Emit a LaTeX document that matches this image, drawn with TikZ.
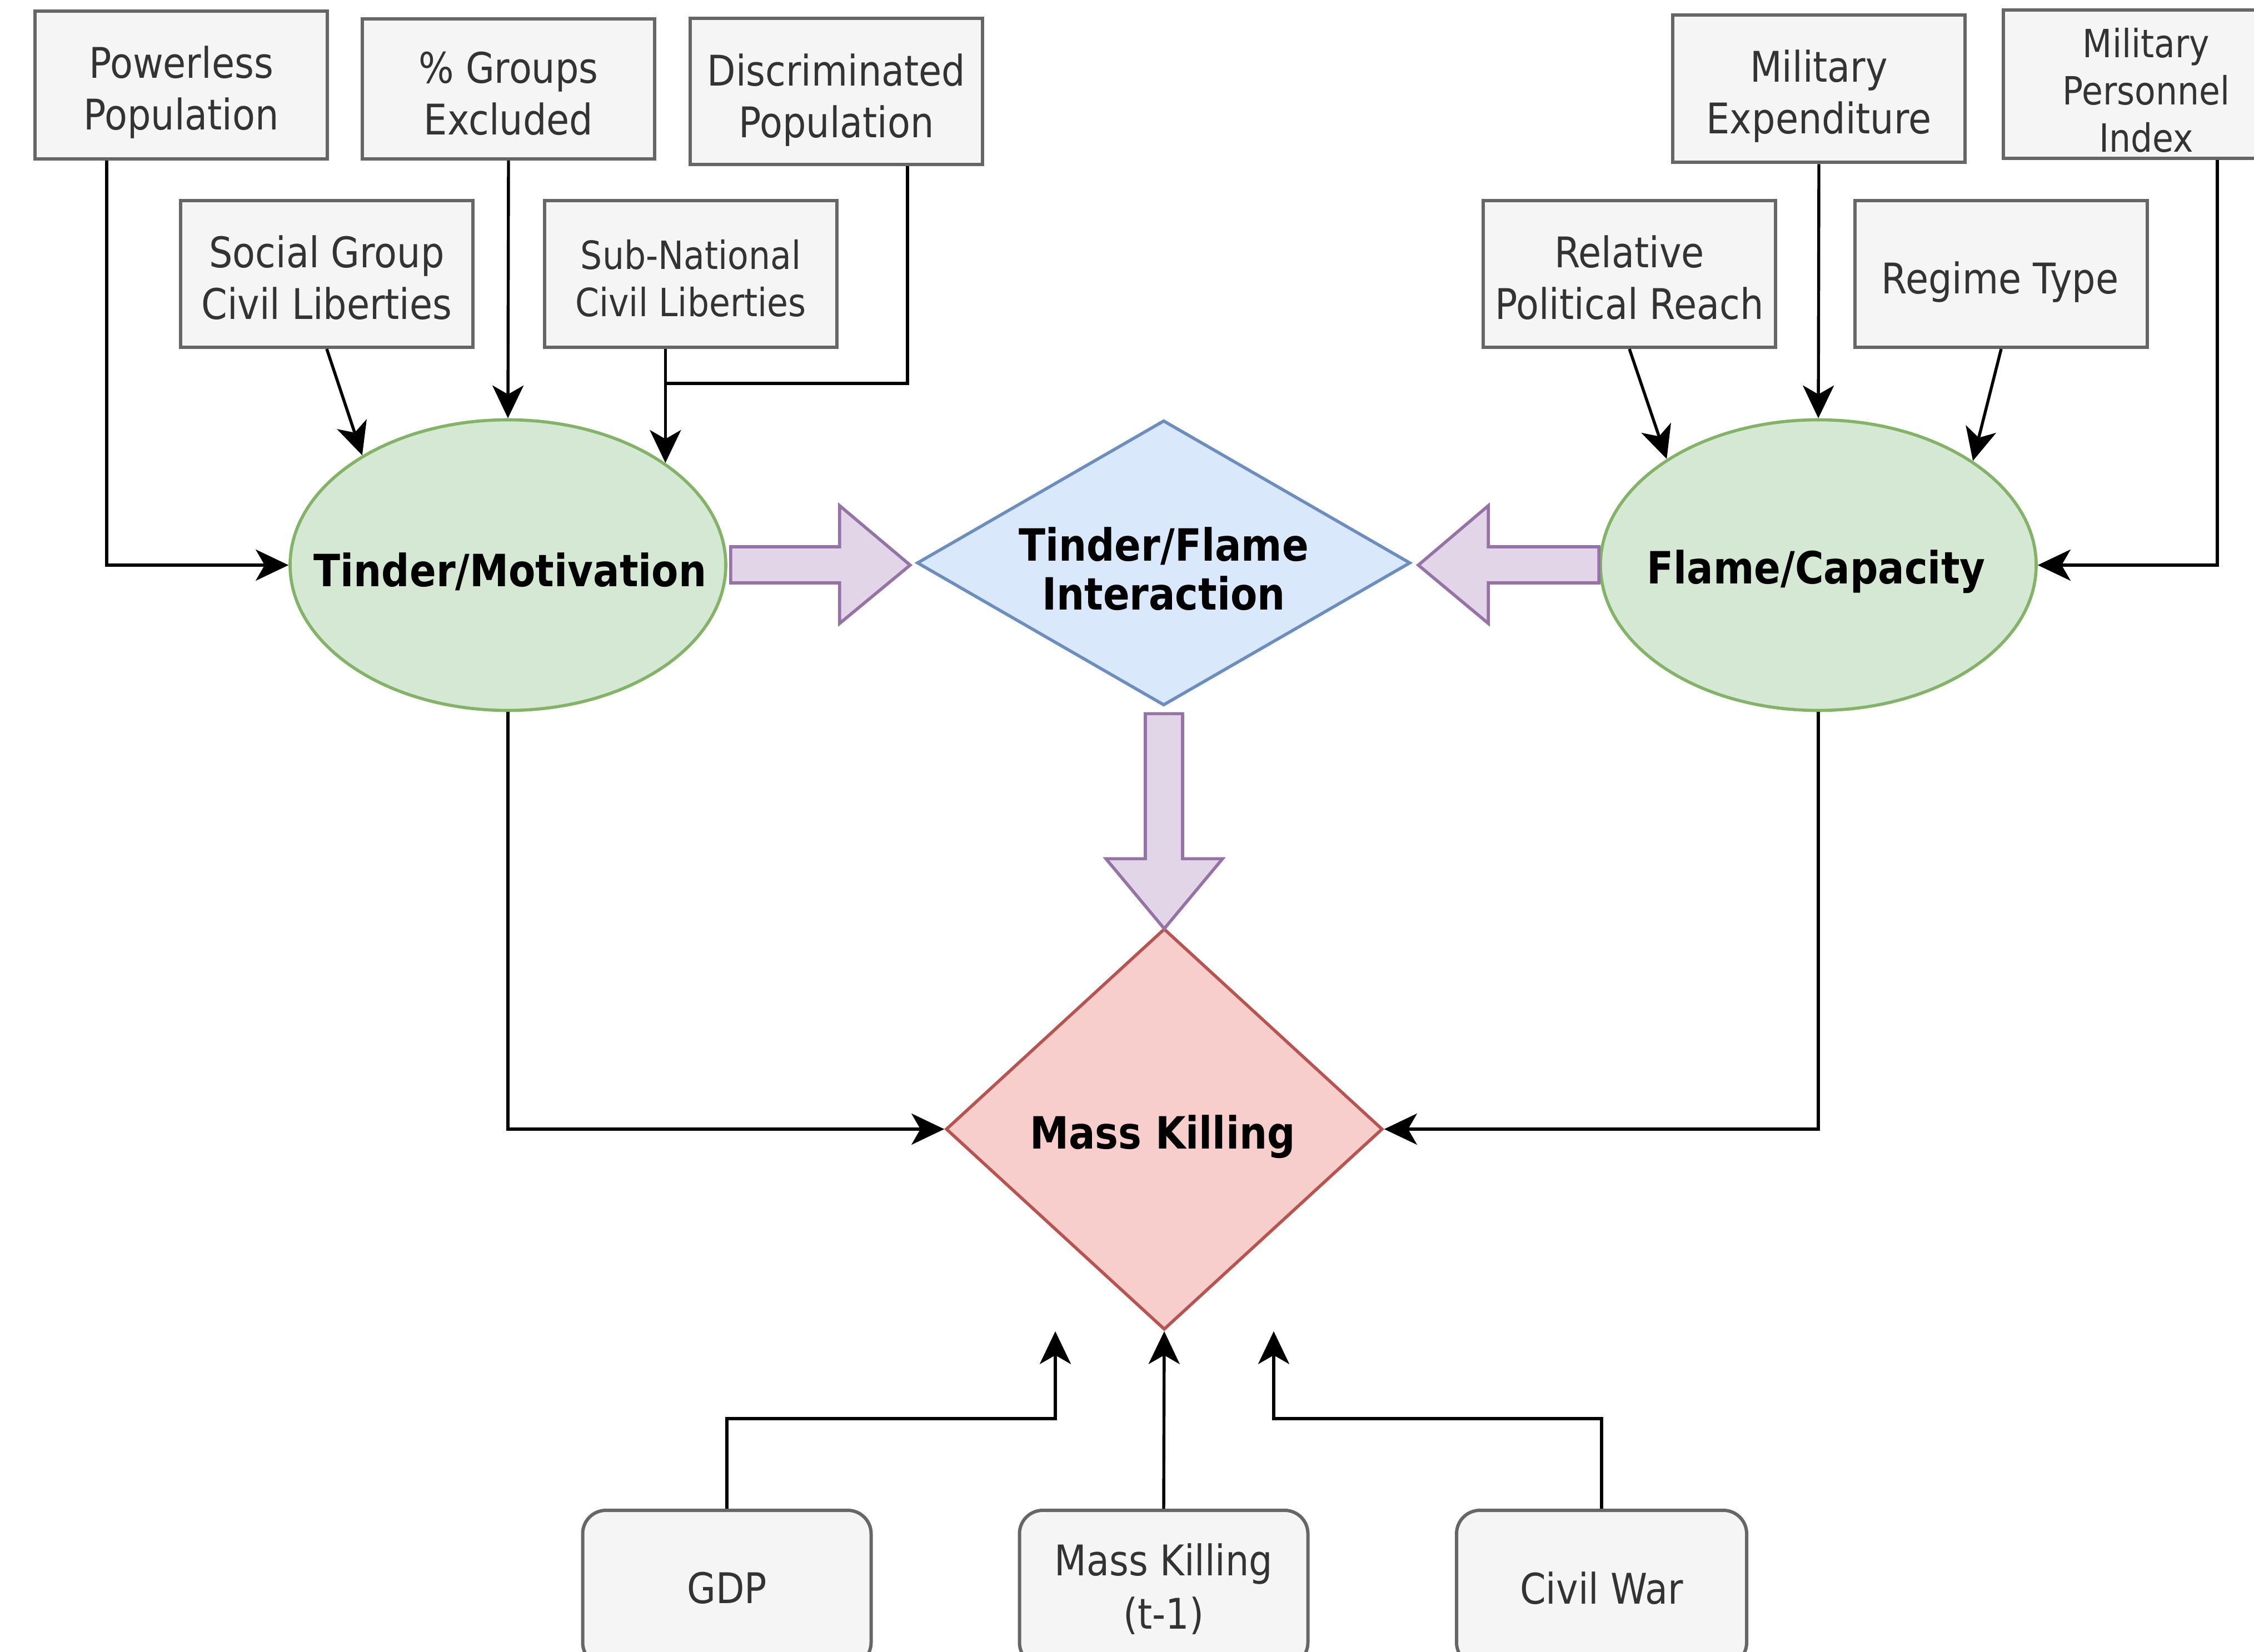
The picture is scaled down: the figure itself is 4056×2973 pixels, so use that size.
\documentclass[tikz,border=0pt]{standalone}
\usepackage{fontspec}
\setmainfont[FakeStretch=0.88]{DejaVu Sans}
\usetikzlibrary{shapes.geometric,arrows.meta,calc}
\definecolor{gfill}{HTML}{F5F5F5}
\definecolor{gdraw}{HTML}{666666}
\definecolor{gtext}{HTML}{333333}
\definecolor{greenf}{HTML}{D5E8D4}
\definecolor{greend}{HTML}{82B366}
\definecolor{bluef}{HTML}{DAE8FC}
\definecolor{blued}{HTML}{6C8EBF}
\definecolor{redf}{HTML}{F8CECC}
\definecolor{redd}{HTML}{B85450}
\definecolor{purf}{HTML}{E1D5E7}
\definecolor{purd}{HTML}{9673A6}
\begin{document}
\begin{tikzpicture}[x=0.25pt,y=-0.25pt,
  gbox/.style={rectangle, draw=gdraw, fill=gfill, line width=1.5pt, inner sep=0pt, minimum width=131.5pt},
  gtxt/.style={text=gtext, align=center, inner sep=0pt, font=\fontsize{19}{23.25}\selectfont},
  smalltxt/.style={text=gtext, align=center, inner sep=0pt, font=\fontsize{17.5}{21.25}\selectfont},
  ell/.style={ellipse, draw=greend, fill=greenf, line width=1.4pt, minimum width=196pt, minimum height=130.75pt, inner sep=0pt},
  conn/.style={line width=1.35pt, draw=black, -{Stealth[length=14.75pt,width=14pt,inset=4pt]}},
  plainline/.style={line width=1.35pt, draw=black},
  barrow/.style={draw=purd, fill=purf, line width=1.4pt, line join=miter},
  lab/.style={font=\bfseries\fontsize{20}{22}\selectfont, align=center, text=black, inner sep=0pt}
]
\useasboundingbox (0,0) rectangle (4056,2973);

% top-left boxes
\node[gbox, minimum height=66.5pt] (pow) at (326,153) {};
\node[gtxt] (powt) at (326,166) {Powerless\\Population};
\node[gbox, minimum height=63pt] (grp) at (915,160) {};
\node[gtxt] (grpt) at (915,168) {\% Groups\\Excluded};
\node[gbox, minimum height=65.75pt] (disc) at (1505,165) {};
\node[gtxt] (disct) at (1505,180) {Discriminated\\Population};
\node[gbox, minimum height=66pt] (soc) at (588,493) {};
\node[gtxt] (soct) at (588,500) {Social Group\\Civil Liberties};
\node[gbox, minimum height=66pt] (sub) at (1243,493) {};
\node[smalltxt] (subt) at (1243,501) {Sub-National\\Civil Liberties};

% top-right boxes
\node[gbox, minimum height=66.25pt] (mexp) at (3273,160) {};
\node[gtxt] (mexpt) at (3273,173) {Military\\Expenditure};
\node[gbox, minimum height=66.75pt] (mper) at (3868,152) {};
\node[smalltxt] (mpert) at (3862,162) {Military\\Personnel\\Index};
\node[gbox, minimum height=66pt] (rel) at (2932,493) {};
\node[gtxt] (relt) at (2932,500) {Relative\\Political Reach};
\node[gbox, minimum height=66pt] (reg) at (3601,493) {};
\node[gtxt] (regt) at (3599,508) {Regime Type};

% ellipses
\node[ell] (tm) at (914,1017) {};
\node[lab] (tmt) at (918,1029) {Tinder/Motivation};
\node[ell] (fc) at (3272,1017) {};
\node[lab] (fct) at (3268,1029) {Flame/Capacity};

% diamonds
\node[diamond, draw=blued, fill=bluef, line width=1.4pt, minimum width=222pt, minimum height=128.25pt, inner sep=0pt] (tfi) at (2094,1013) {};
\node[lab] (tfit) at (2094,1024) {Tinder/Flame\\Interaction};
\node[diamond, draw=redd, fill=redf, line width=1.4pt, minimum width=196.5pt, minimum height=180.5pt, inner sep=0pt] (mk) at (2095,2032) {};
\node[lab] (mkt) at (2092,2046) {Mass Killing};

% bottom boxes
\node[gbox, rounded corners=10.5pt, minimum width=129.75pt, minimum height=70pt] (gdp) at (1308,2858) {};
\node[gtxt, font=\fontsize{19}{24}\selectfont] (gdpt) at (1308,2858) {GDP};
\node[gbox, rounded corners=10.5pt, minimum width=129.75pt, minimum height=70pt] (mkp) at (2094,2858) {};
\node[gtxt, font=\fontsize{19}{24}\selectfont] (mkpt) at (2094,2860) {Mass Killing\\(t-1)};
\node[gbox, rounded corners=10.5pt, minimum width=130.5pt, minimum height=70pt] (cw) at (2882,2858) {};
\node[gtxt, font=\fontsize{19}{24}\selectfont] (cwt) at (2882,2858) {Civil War};

% block arrows
\draw[barrow] ($(tm.east)+(6,-33)$) -- ++(196,0) -- ++(0,-74) -- ++(127,107) -- ++(-127,105) -- ++(0,-73) -- ++(-196,0) -- cycle;
\draw[barrow] ($(fc.west)+(0,-33)$) -- ++(-199,0) -- ++(0,-74) -- ++(-126,107) -- ++(126,105) -- ++(0,-73) -- ++(199,0) -- cycle;
\draw[barrow] ($(tfi.south)+(-33,12)$) -- ++(67,0) -- ++(0,261) -- ++(72,0) -- ++(-105,126) -- ++(-105,-126) -- ++(71,0) -- cycle;

% left connectors
\coordinate (sj) at (tm.33.5 |- 0,690);
\draw[conn] ($(pow.south west)+(132,0)$) |- (tm.west);
\draw[conn] (grp.south) -- (tm.north);
\draw[conn] (soc.south) -- (tm.143);
\draw[conn] (sub.south -| tm.33.5) -- (tm.33.5);
\draw[plainline] ($(disc.south west)+(394,0)$) |- (sj);

% right connectors
\draw[conn] (mexp.south) -- (fc.north);
\draw[conn] (rel.south) -- (fc.145);
\draw[conn] (reg.south) -- (fc.34);
\draw[conn] ($(mper.south west)+(388,0)$) |- (fc.east);

% to mass killing
\draw[conn] (tm.south) |- (mk.west);
\draw[conn] (fc.south) |- (mk.east);

% bottom connectors
\coordinate (ga) at ($(mk.south)+(-196,0)$);
\coordinate (ca) at ($(mk.south)+(197,0)$);
\draw[conn] (gdp.north) -- ++(0,-162) -| (ga);
\draw[conn] (mkp.north) -- (mk.south);
\draw[conn] (cw.north) -- ++(0,-162) -| (ca);
\end{tikzpicture}
\end{document}
